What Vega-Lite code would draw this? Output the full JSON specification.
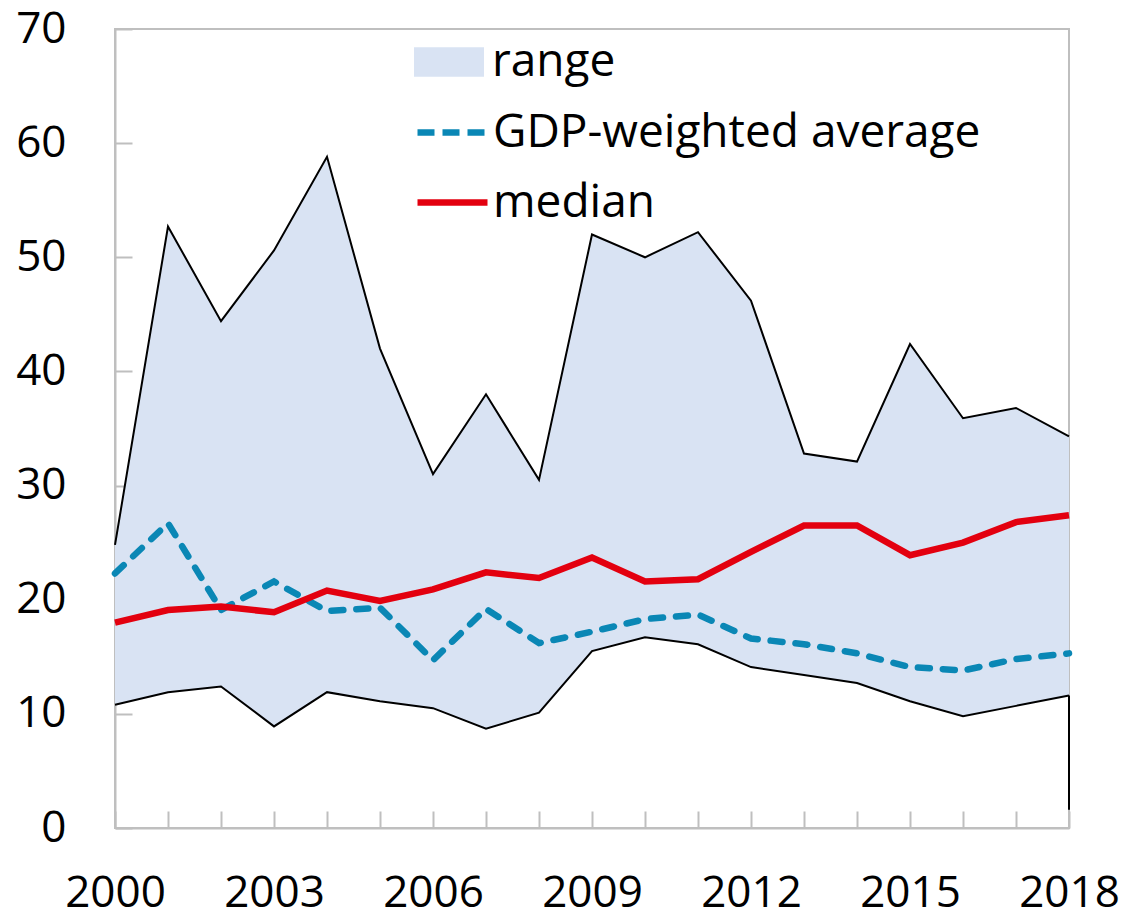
{
  "$schema": "https://vega.github.io/schema/vega-lite/v6.json",
  "width": 954,
  "height": 799,
  "autosize": "none",
  "padding": {"left": 115, "top": 29, "right": 58, "bottom": 91},
  "background": "white",
  "config": {
    "view": {"stroke": "#BFBFBF", "strokeWidth": 2},
    "axis": {
      "grid": false,
      "domainColor": "#BFBFBF",
      "domainWidth": 2,
      "tickColor": "#BFBFBF",
      "tickWidth": 2,
      "labelFont": "Open Sans",
      "labelFontSize": 44,
      "labelColor": "black",
      "title": null
    },
    "legend": {
      "orient": "none",
      "title": null,
      "padding": 0,
      "symbolSize": 4900,
      "labelFont": "Open Sans",
      "labelFontSize": 46,
      "labelColor": "black",
      "labelLimit": 0,
      "rowPadding": 0,
      "symbolOpacity": 1
    }
  },
  "resolve": {"scale": {"color": "independent"}, "legend": {"color": "independent"}},
  "datasets": {
    "main": [
      {"year": 2000, "hi": 24.8, "lo": 10.8, "median": 18.0, "gdp": 22.3},
      {"year": 2001, "hi": 52.7, "lo": 11.9, "median": 19.1, "gdp": 26.7},
      {"year": 2002, "hi": 44.4, "lo": 12.4, "median": 19.4, "gdp": 19.1},
      {"year": 2003, "hi": 50.6, "lo": 8.9, "median": 18.9, "gdp": 21.6},
      {"year": 2004, "hi": 58.8, "lo": 11.9, "median": 20.8, "gdp": 19.0},
      {"year": 2005, "hi": 42.0, "lo": 11.1, "median": 19.9, "gdp": 19.3},
      {"year": 2006, "hi": 31.0, "lo": 10.5, "median": 20.9, "gdp": 14.7},
      {"year": 2007, "hi": 38.0, "lo": 8.7, "median": 22.4, "gdp": 19.2},
      {"year": 2008, "hi": 30.5, "lo": 10.1, "median": 21.9, "gdp": 16.2},
      {"year": 2009, "hi": 52.0, "lo": 15.5, "median": 23.7, "gdp": 17.2},
      {"year": 2010, "hi": 50.0, "lo": 16.7, "median": 21.6, "gdp": 18.3},
      {"year": 2011, "hi": 52.2, "lo": 16.1, "median": 21.8, "gdp": 18.7},
      {"year": 2012, "hi": 46.2, "lo": 14.1, "median": 24.2, "gdp": 16.6},
      {"year": 2013, "hi": 32.8, "lo": 13.4, "median": 26.5, "gdp": 16.1},
      {"year": 2014, "hi": 32.1, "lo": 12.7, "median": 26.5, "gdp": 15.3},
      {"year": 2015, "hi": 42.4, "lo": 11.1, "median": 23.9, "gdp": 14.1},
      {"year": 2016, "hi": 35.9, "lo": 9.8, "median": 25.0, "gdp": 13.8},
      {"year": 2017, "hi": 36.8, "lo": 10.7, "median": 26.8, "gdp": 14.8},
      {"year": 2018, "hi": 34.3, "lo": 11.6, "median": 27.4, "gdp": 15.3}
    ],
    "drop": [
      {"year": 2018, "from": 1.6, "to": 11.6}
    ]
  },
  "data": {"name": "main"},
  "encoding": {
    "x": {
      "field": "year",
      "type": "quantitative",
      "scale": {"domain": [2000, 2018], "nice": false, "zero": false},
      "axis": {
        "values": [2000,2001,2002,2003,2004,2005,2006,2007,2008,2009,2010,2011,2012,2013,2014,2015,2016,2017,2018],
        "format": "d",
        "labelExpr": "(datum.value - 2000) % 3 === 0 ? datum.label : ''",
        "tickSize": -17,
        "labelPadding": 60,
        "labelFlush": false,
        "labelOverlap": false
      }
    }
  },
  "layer": [
    {
      "mark": {"type": "area", "opacity": 1},
      "encoding": {
        "y": {
          "field": "lo",
          "type": "quantitative",
          "scale": {"domain": [0, 70], "nice": false},
          "axis": {
            "values": [0, 10, 20, 30, 40, 50, 60, 70],
            "tickSize": -17,
            "labelPadding": 66
          }
        },
        "y2": {"field": "hi"},
        "color": {
          "datum": "range",
          "type": "nominal",
          "scale": {"domain": ["range"], "range": ["#D9E3F3"]},
          "legend": {
            "legendX": 299,
            "legendY": -2,
            "symbolType": "M-1,-0.42H1V0.42H-1Z",
            "symbolStrokeWidth": 0,
            "labelOffset": 8
          }
        }
      }
    },
    {
      "mark": {"type": "line", "color": "black", "strokeWidth": 2},
      "encoding": {"y": {"field": "hi", "type": "quantitative"}}
    },
    {
      "mark": {"type": "line", "color": "black", "strokeWidth": 2},
      "encoding": {"y": {"field": "lo", "type": "quantitative"}}
    },
    {
      "data": {"name": "drop"},
      "mark": {"type": "rule", "color": "black", "strokeWidth": 2},
      "encoding": {
        "y": {"field": "from", "type": "quantitative"},
        "y2": {"field": "to"}
      }
    },
    {
      "mark": {"type": "line", "strokeWidth": 6.5, "strokeDash": [12, 13], "strokeCap": "round"},
      "encoding": {
        "y": {"field": "gdp", "type": "quantitative"},
        "color": {
          "datum": "GDP-weighted average",
          "type": "nominal",
          "scale": {"domain": ["GDP-weighted average"], "range": ["#0A87B5"]},
          "legend": {
            "legendX": 299,
            "legendY": 65,
            "symbolType": "stroke",
            "symbolStrokeWidth": 6.5,
            "symbolDash": [17, 8],
            "labelOffset": 2
          }
        }
      }
    },
    {
      "mark": {"type": "line", "strokeWidth": 6.5},
      "encoding": {
        "y": {"field": "median", "type": "quantitative"},
        "color": {
          "datum": "median",
          "type": "nominal",
          "scale": {"domain": ["median"], "range": ["#E3000F"]},
          "legend": {
            "legendX": 299,
            "legendY": 135,
            "symbolType": "stroke",
            "symbolStrokeWidth": 6.5,
            "labelOffset": 2
          }
        }
      }
    }
  ]
}
